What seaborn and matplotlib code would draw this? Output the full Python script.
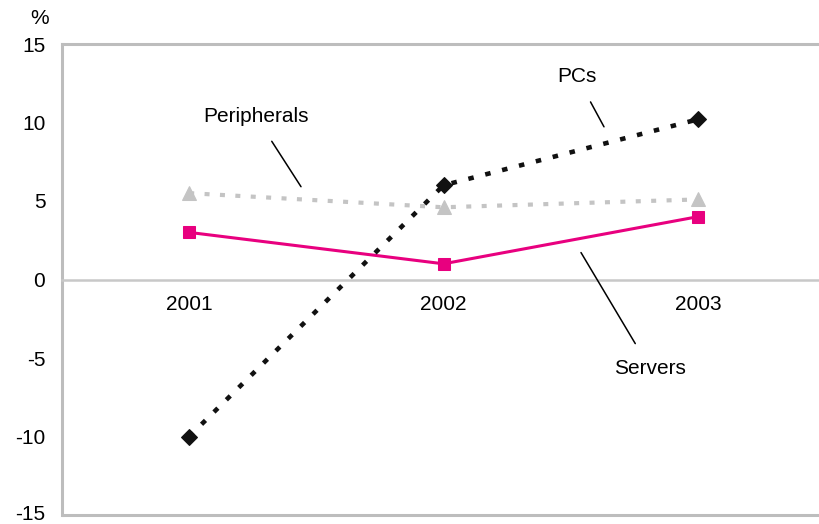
import matplotlib
matplotlib.use("Agg")
import matplotlib.pyplot as plt
import matplotlib.transforms as mtransforms
import seaborn as sns
import pandas as pd

years = ["2001", "2002", "2003"]
pcs = [-10.0, 6.0, 10.2]
peripherals = [5.5, 4.6, 5.1]
servers = [3.0, 1.0, 4.0]
y_ticks = [-15, -10, -5, 0, 5, 10, 15]

sns.set_theme(style="white")
plt.rcParams["font.family"] = ["Liberation Sans", "DejaVu Sans"]
plt.rcParams["text.color"] = "black"
plt.rcParams["xtick.color"] = "black"
plt.rcParams["ytick.color"] = "black"

FS = 15

fig = plt.figure(figsize=(8.19, 5.24), dpi=100)
# the plot box runs slightly past the right edge of the figure
ax = fig.add_axes([62 / 819, 9 / 524, 763 / 819, 471 / 524])

pos = [i + 0.5 for i in range(len(years))]
df = pd.DataFrame({
    "x": pos * 3,
    "value": pcs + peripherals + servers,
    "series": ["PCs"] * 3 + ["Peripherals"] * 3 + ["Servers"] * 3,
})

grey = "#c4c4c4"
sns.lineplot(data=df[df.series == "Peripherals"], x="x", y="value", ax=ax,
             color=grey, lw=3.0, linestyle=(0, (1.2, 2.5)), marker="^",
             markersize=10, markeredgecolor=grey, zorder=3)
sns.lineplot(data=df[df.series == "Servers"], x="x", y="value", ax=ax,
             color="#e8007f", lw=2.2, marker="s", markersize=9,
             markeredgecolor="#e8007f", zorder=4)
sns.lineplot(data=df[df.series == "PCs"], x="x", y="value", ax=ax,
             color="#111111", lw=3.3, linestyle=(0, (1.2, 2.6)), marker="D",
             markersize=8, markeredgecolor="#111111", zorder=5)

ax.set_xlim(0, 3)
ax.set_ylim(-15, 15)
ax.set_xlabel("")
ax.set_ylabel("")

# frame
for side in ("top", "left"):
    ax.spines[side].set_color("#bdbdbd")
    ax.spines[side].set_linewidth(2.2)
ax.spines["right"].set_visible(False)
ax.spines["bottom"].set_position(("data", 0))
ax.spines["bottom"].set_color("#c8c8c8")
ax.spines["bottom"].set_linewidth(1.8)
ax.axhline(-15, color="#bdbdbd", lw=2.2, clip_on=False, zorder=1)

ax.set_yticks(y_ticks)
ax.set_yticklabels([str(v) for v in y_ticks], fontsize=FS)
ax.tick_params(axis="y", direction="in", length=4, color="#bdbdbd",
               labelcolor="black", pad=12)
# keep the lowest tick label inside the figure edge
bottom_label = ax.get_yticklabels()[0]
bottom_label.set_transform(bottom_label.get_transform() +
                           mtransforms.ScaledTranslation(0, 3 / 100,
                                                         fig.dpi_scale_trans))

ax.set_xticks(pos)
ax.set_xticklabels(years, fontsize=FS)
ax.set_xticks([1, 2], minor=True)
ax.tick_params(axis="x", which="major", length=0, pad=11, labelcolor="black")
ax.tick_params(axis="x", which="minor", direction="in", length=5,
               color="#888888", width=1)

fig.text(40 / 819, 1 - 18 / 524, "%", fontsize=FS, ha="center", va="center")

# series labels with leader lines
def label(text, xy, xytext):
    ax.annotate(text, xy=xy, xytext=xytext, fontsize=FS, ha="center",
                va="center", color="black",
                arrowprops=dict(arrowstyle="-", color="black", lw=1.1,
                                shrinkA=10, shrinkB=0))

def px(x, y):
    return ((x - 62) / 763 * 3, 15 - (y - 44) / 472 * 30)

label("PCs", px(604, 127), px(577, 77))
label("Peripherals", px(301, 187), px(256, 117))
label("Servers", px(581, 253), px(650, 369))

fig.savefig("out.png", dpi=100)
